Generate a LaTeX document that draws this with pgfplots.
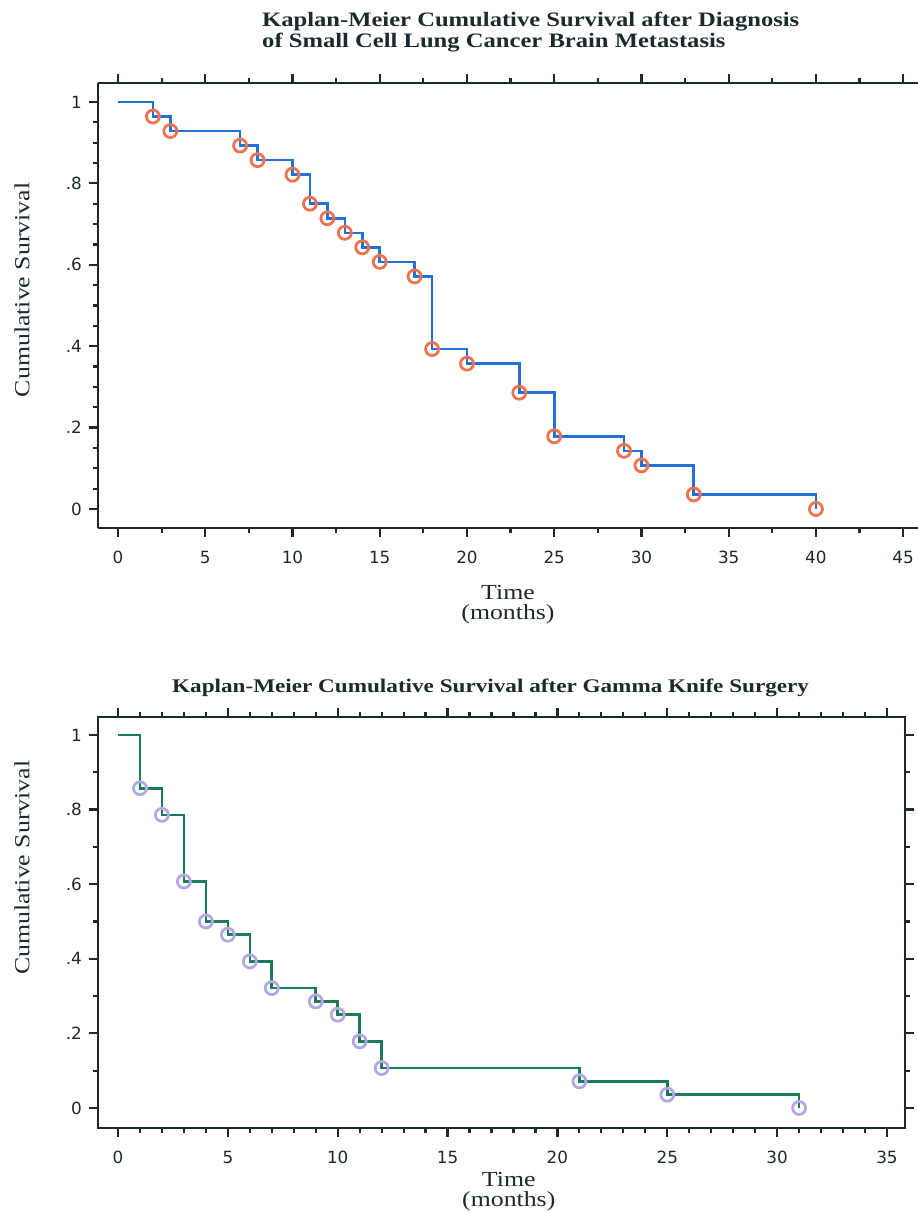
\documentclass[border=0pt]{standalone}
\usepackage{fontspec}
\setmainfont[FakeStretch=1.2]{Liberation Serif}
\newfontfamily\tickfont{DejaVu Sans}
\usepackage{pgfplots}
\pgfplotsset{compat=1.18}
\definecolor{Frame}{HTML}{1C2A30}
\definecolor{KMBlue}{HTML}{2270D8}
\definecolor{KMOrange}{HTML}{F0724E}
\definecolor{KMGreen}{HTML}{1A7A5A}
\definecolor{KMLilac}{HTML}{B4A8E4}

\pgfplotsset{km/.style={
  scale only axis,
  axis line style={Frame,line width=2.4pt,-},
  every outer x axis line/.append style={-},
  every outer y axis line/.append style={-},
  tick style={Frame,line width=2.2pt},
  tick align=outside,
  major tick length=9pt, minor tick length=5pt,
  ticklabel style={font=\tickfont\fontsize{16.8}{18}\selectfont,text=Frame,inner sep=0pt},
  xticklabel style={yshift=-14pt},
  yticklabel style={xshift=-7pt},
  /pgf/number format/assume math mode=true,
  label style={font=\fontsize{21.5}{20}\selectfont,text=Frame,inner sep=0pt},
  ylabel={Cumulative Survival},
  xlabel={Time\\(months)},
  xlabel style={align=center,anchor=north},
  ylabel style={anchor=center},
  ytick={0,0.2,0.4,0.6,0.8,1},
  yticklabels={0,.2,.4,.6,.8,1},
}}

\begin{document}
\begin{tikzpicture}
\useasboundingbox (0pt,0pt) rectangle (918pt,1213pt);

% upper panel: survival after diagnosis
\begin{axis}[axis x line=box,axis y line=left,
  km,at={(98pt,685pt)},anchor=south west,
  width=820pt,height=445pt,
  xmin=-1.146,xmax=45.85,ymin=-0.0467,ymax=1.0467,
  xtick={0,5,...,45},minor x tick num=1,minor y tick num=3,
  xlabel style={at={(axis description cs:0.5,-0.128)}},
  ylabel style={at={(axis description cs:-0.0927,0.535)}}]
\addplot[only marks,mark=o,mark size=6.5pt,mark options={KMOrange,line width=2.8pt}] coordinates {
(2,0.9643) (3,0.9286) (7,0.8929) (8,0.8571) (10,0.8214) (11,0.75) (12,0.7143)
(13,0.6786) (14,0.6429) (15,0.6071) (17,0.5714) (18,0.3929) (20,0.3571)
(23,0.2857) (25,0.1786) (29,0.1429) (30,0.1071) (33,0.0357) (40,0)};
\addplot[KMBlue,line width=2.6pt,const plot,mark=none] coordinates {
(0,1) (2,0.9643) (3,0.9286) (7,0.8929) (8,0.8571) (10,0.8214) (11,0.75) (12,0.7143)
(13,0.6786) (14,0.6429) (15,0.6071) (17,0.5714) (18,0.3929) (20,0.3571)
(23,0.2857) (25,0.1786) (29,0.1429) (30,0.1071) (33,0.0357) (40,0)};
\end{axis}

% lower panel: survival after gamma knife surgery
\begin{axis}[km,at={(98pt,85pt)},anchor=south west,
  width=807pt,height=411pt,
  xmin=-0.91,xmax=35.82,ymin=-0.0536,ymax=1.048,
  xtick={0,5,...,35},minor x tick num=4,minor y tick num=1,
  xlabel style={at={(axis description cs:0.509,-0.107)}},
  ylabel style={at={(axis description cs:-0.0942,0.633)}}]
\addplot[only marks,mark=o,mark size=6.5pt,mark options={KMLilac,line width=2.8pt}] coordinates {
(1,0.8571) (2,0.7857) (3,0.6071) (4,0.5) (5,0.4643) (6,0.3929) (7,0.3214)
(9,0.2857) (10,0.25) (11,0.1786) (12,0.1071) (21,0.0714) (25,0.0357) (31,0)};
\addplot[KMGreen,line width=2.6pt,const plot,mark=none] coordinates {
(0,1) (1,0.8571) (2,0.7857) (3,0.6071) (4,0.5) (5,0.4643) (6,0.3929) (7,0.3214)
(9,0.2857) (10,0.25) (11,0.1786) (12,0.1071) (21,0.0714) (25,0.0357) (31,0)};
\end{axis}

\node[anchor=west,align=left,text=Frame,inner sep=0pt,
  font=\fontsize{20.5}{21}\selectfont\bfseries] at (262pt,1181pt)
  {Kaplan-Meier Cumulative Survival after Diagnosis\\of Small Cell Lung Cancer Brain Metastasis};
\node[anchor=west,text=Frame,inner sep=0pt,
  font=\fontsize{19.3}{21}\selectfont\bfseries] at (172pt,525pt)
  {Kaplan-Meier Cumulative Survival after Gamma Knife Surgery};
\end{tikzpicture}
\end{document}
